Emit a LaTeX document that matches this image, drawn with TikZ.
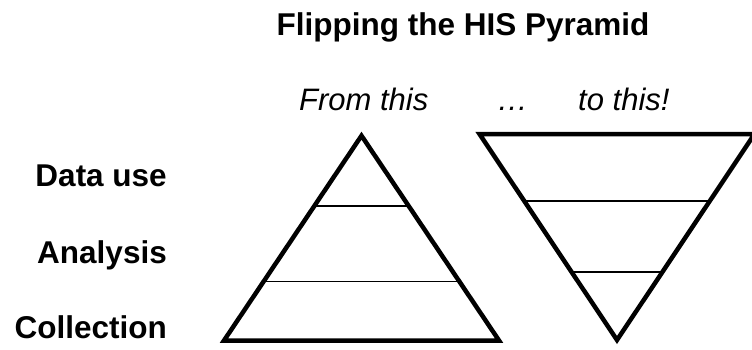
\documentclass[tikz,border=0pt]{standalone}
\usepackage{fontspec}
\setmainfont{Liberation Sans}
\usetikzlibrary{calc}
\begin{document}
\begin{tikzpicture}[x=1pt,y=-1pt,
  lbl/.style={font=\fontsize{31.5}{36}\selectfont\bfseries, inner sep=0pt, anchor=base east},
  ital/.style={font=\fontsize{31}{36}\selectfont\itshape, inner sep=0pt, anchor=base west},
  outline/.style={line width=4.5pt, line join=miter},
  level/.style={line width=1.5pt}]
\useasboundingbox (0,0) rectangle (752,349);
\fill[white] (0,0) rectangle (752,349);
\node[font=\fontsize{31.5}{36}\selectfont\bfseries, inner sep=0pt, anchor=base] (title) at (463,35) {Flipping the HIS Pyramid};
\node[ital] (from) at (299,110) {From this};
\node[ital] (dots) at (497,110) {…};
\node[ital] (to) at (578,110) {to this!};
\node[lbl] (datause) at (167,186) {Data use};
\node[lbl] (analysis) at (167,263) {Analysis};
\node[lbl] (collection) at (167,338) {Collection};
% left pyramid
\coordinate (La) at (361.5,135.7);
\coordinate (Lb) at (224,340.5);
\coordinate (Lc) at (499,340.5);
\draw[outline] (La) -- (Lb) -- (Lc) -- cycle;
\draw[level] ($(La)!{(206-135.7)/204.8}!(Lb)$) -- ($(La)!{(206-135.7)/204.8}!(Lc)$);
\draw[level] ($(La)!{(281.7-135.7)/204.8}!(Lb)$) -- ($(La)!{(281.7-135.7)/204.8}!(Lc)$);
% right pyramid
\coordinate (Ra) at (617,340);
\coordinate (Rb) at (479.5,134);
\coordinate (Rc) at (754.5,134);
\draw[outline] (Ra) -- (Rb) -- (Rc) -- cycle;
\draw[level] ($(Ra)!{(340-201)/206}!(Rb)$) -- ($(Ra)!{(340-201)/206}!(Rc)$);
\draw[level] ($(Ra)!{(340-272)/206}!(Rb)$) -- ($(Ra)!{(340-272)/206}!(Rc)$);
\end{tikzpicture}
\end{document}
